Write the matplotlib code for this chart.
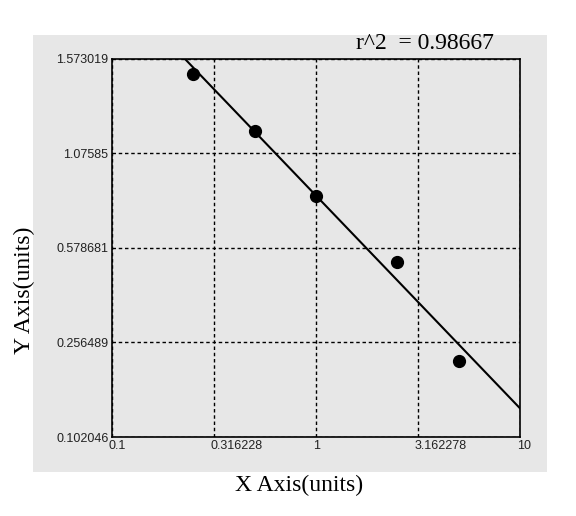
import numpy as np
import matplotlib
matplotlib.use('Agg')
import matplotlib.pyplot as plt
from matplotlib.patches import Rectangle
from matplotlib.ticker import NullLocator
import matplotlib.transforms as mtransforms

# axis ticks as printed on the chart
x_ticks = [0.1, 0.316228, 1, 3.162278, 10]
x_labels = ['0.1', '0.316228', '1', '3.162278', '10']
y_ticks = [0.102046, 0.256489, 0.578681, 1.07585, 1.573019]
y_labels = ['0.102046', '0.256489', '0.578681', '1.07585', '1.573019']

# standard points
std_x = [0.25, 0.5, 1.0, 2.5, 5.0]
std_y = [1.493, 1.195, 0.852, 0.530, 0.226]

# fitted curve end points
fit_x = [0.228, 10.0]
fit_y = [1.573019, 0.149]

r2_text = 'r^2  = 0.98667'

gray = '#e7e7e7'

# y axis is evenly spaced between the printed ticks
tick_idx = np.arange(len(y_ticks), dtype=float)
def y_fwd(v):
    return np.interp(v, y_ticks, tick_idx)
def y_inv(u):
    return np.interp(u, tick_idx, y_ticks)

fig = plt.figure(figsize=(5.76, 5.16), dpi=100)
fig.patch.set_facecolor('white')
fig.patches.append(Rectangle((0.0573, 0.0853), 0.8924, 0.8469,
                             transform=fig.transFigure, facecolor=gray,
                             edgecolor='none', zorder=-1))

ax = fig.add_axes([0.1944, 0.1531, 0.7083, 0.7326])
ax.set_zorder(1)
ax.set_facecolor(gray)
ax.set_xscale('log')
ax.set_yscale('function', functions=(y_fwd, y_inv))
ax.set_xlim(0.1, 10)
ax.set_ylim(y_ticks[0], y_ticks[-1])

ax.plot(fit_x, fit_y, color='black', lw=1.5, zorder=3)
ax.plot(std_x, std_y, 'o', color='black', ms=8.5, zorder=4)

ax.set_xticks(x_ticks)
ax.set_xticklabels(x_labels)
ax.set_yticks(y_ticks)
ax.set_yticklabels(y_labels)
ax.xaxis.set_minor_locator(NullLocator())
ax.yaxis.set_minor_locator(NullLocator())
ax.tick_params(length=0, labelsize=9, colors='#222222', pad=2.5)
shift = mtransforms.ScaledTranslation(-3 / 100, 0, fig.dpi_scale_trans)
for lab in ax.get_xticklabels():
    lab.set_horizontalalignment('left')
    lab.set_transform(lab.get_transform() + shift)
    lab.set_family('Liberation Sans')
for lab in ax.get_yticklabels():
    lab.set_family('Liberation Sans')

ax.grid(True, color='black', linestyle=(0, (2.5, 2)), lw=1.0)
for sp in ax.spines.values():
    sp.set_color('black')
    sp.set_linewidth(1.2)

fig.text(0.519, 0.060, 'X Axis(units)', ha='center', va='center',
         family='Liberation Serif', fontsize=17)
fig.text(0.043, 0.438, 'Y Axis(units)', ha='center', va='center',
         rotation=90, family='Liberation Serif', fontsize=17)
fig.text(0.738, 0.915, r2_text, ha='center', va='center',
         family='Liberation Serif', fontsize=17)

fig.savefig('out.png', dpi=100, facecolor='white')
